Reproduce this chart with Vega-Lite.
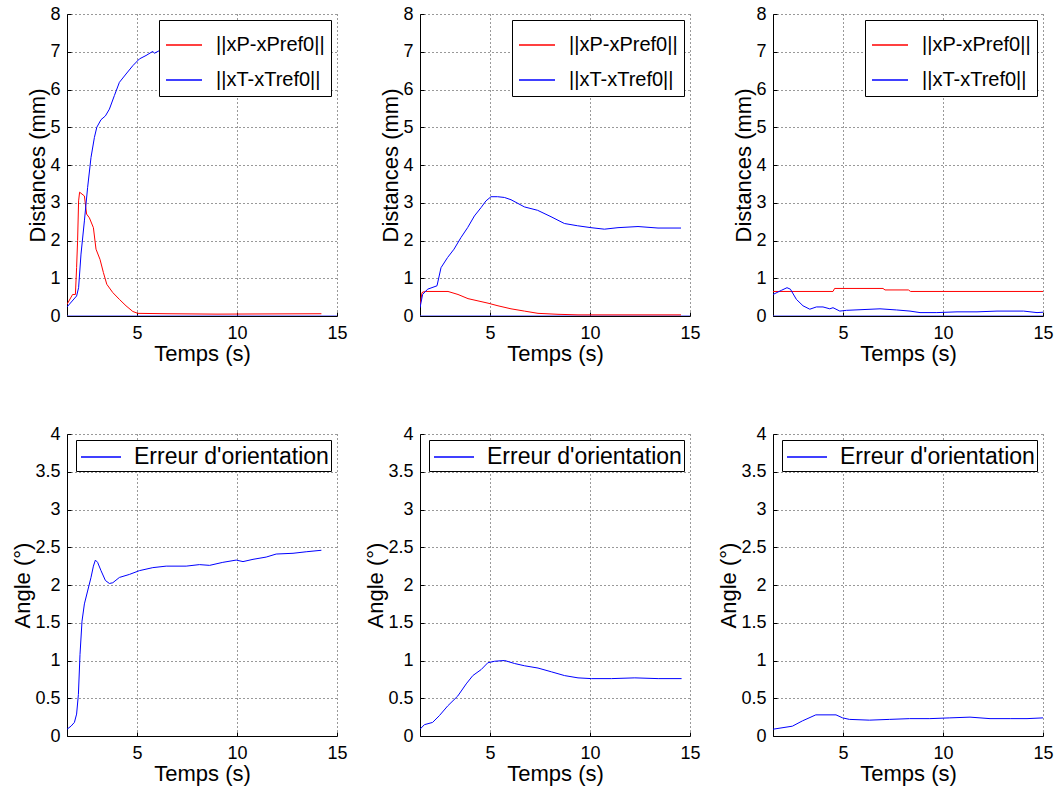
{
  "$schema": "https://vega.github.io/schema/vega-lite/v6.json",
  "padding": {"left": 11, "top": 5, "right": 4, "bottom": 4},
  "background": "white",
  "datasets": {
    "lines": [
      {"p":"A","s":"Z","t":1.5,"v":0},{"p":"A","s":"Z","t":15,"v":0},
      {"p":"B","s":"Z","t":1.5,"v":0},{"p":"B","s":"Z","t":15,"v":0},
      {"p":"C","s":"Z","t":1.5,"v":0},{"p":"C","s":"Z","t":15,"v":0},
      {"p":"A","s":"P","t":1.5,"v":0.31},{"p":"A","s":"P","t":1.78,"v":0.57},{"p":"A","s":"P","t":1.92,"v":0.57},{"p":"A","s":"P","t":1.98,"v":1.28},{"p":"A","s":"P","t":2.03,"v":2.0},{"p":"A","s":"P","t":2.08,"v":3.05},{"p":"A","s":"P","t":2.13,"v":3.28},{"p":"A","s":"P","t":2.37,"v":3.18},{"p":"A","s":"P","t":2.48,"v":2.7},{"p":"A","s":"P","t":2.62,"v":2.6},{"p":"A","s":"P","t":2.82,"v":2.34},{"p":"A","s":"P","t":2.95,"v":1.77},{"p":"A","s":"P","t":3.15,"v":1.5},{"p":"A","s":"P","t":3.32,"v":1.15},{"p":"A","s":"P","t":3.49,"v":0.84},{"p":"A","s":"P","t":3.79,"v":0.62},{"p":"A","s":"P","t":4.12,"v":0.44},{"p":"A","s":"P","t":4.45,"v":0.27},{"p":"A","s":"P","t":4.79,"v":0.12},{"p":"A","s":"P","t":5.04,"v":0.07},{"p":"A","s":"P","t":6.5,"v":0.06},{"p":"A","s":"P","t":9.0,"v":0.05},{"p":"A","s":"P","t":14.22,"v":0.06},
      {"p":"A","s":"T","t":1.5,"v":0.24},{"p":"A","s":"T","t":1.98,"v":0.53},{"p":"A","s":"T","t":2.08,"v":0.75},{"p":"A","s":"T","t":2.2,"v":1.64},{"p":"A","s":"T","t":2.37,"v":2.52},{"p":"A","s":"T","t":2.53,"v":3.4},{"p":"A","s":"T","t":2.7,"v":4.2},{"p":"A","s":"T","t":2.87,"v":4.73},{"p":"A","s":"T","t":2.99,"v":5.0},{"p":"A","s":"T","t":3.2,"v":5.2},{"p":"A","s":"T","t":3.42,"v":5.3},{"p":"A","s":"T","t":3.62,"v":5.48},{"p":"A","s":"T","t":3.87,"v":5.84},{"p":"A","s":"T","t":4.12,"v":6.19},{"p":"A","s":"T","t":4.45,"v":6.41},{"p":"A","s":"T","t":4.79,"v":6.63},{"p":"A","s":"T","t":5.12,"v":6.81},{"p":"A","s":"T","t":5.45,"v":6.9},{"p":"A","s":"T","t":5.79,"v":7.01},{"p":"A","s":"T","t":5.87,"v":6.96},{"p":"A","s":"T","t":6.12,"v":7.03},{"p":"A","s":"T","t":8.0,"v":7.1},{"p":"A","s":"T","t":11.0,"v":7.15},{"p":"A","s":"T","t":14.22,"v":7.2},
      {"p":"B","s":"P","t":1.5,"v":0.27},{"p":"B","s":"P","t":1.6,"v":0.62},{"p":"B","s":"P","t":1.72,"v":0.65},{"p":"B","s":"P","t":2.9,"v":0.65},{"p":"B","s":"P","t":3.4,"v":0.57},{"p":"B","s":"P","t":3.9,"v":0.46},{"p":"B","s":"P","t":4.4,"v":0.4},{"p":"B","s":"P","t":4.9,"v":0.34},{"p":"B","s":"P","t":5.4,"v":0.27},{"p":"B","s":"P","t":6.05,"v":0.19},{"p":"B","s":"P","t":6.72,"v":0.13},{"p":"B","s":"P","t":7.4,"v":0.07},{"p":"B","s":"P","t":8.4,"v":0.045},{"p":"B","s":"P","t":9.4,"v":0.03},{"p":"B","s":"P","t":14.55,"v":0.03},
      {"p":"B","s":"T","t":1.5,"v":0.22},{"p":"B","s":"T","t":1.63,"v":0.57},{"p":"B","s":"T","t":1.88,"v":0.71},{"p":"B","s":"T","t":2.35,"v":0.8},{"p":"B","s":"T","t":2.55,"v":1.28},{"p":"B","s":"T","t":2.88,"v":1.55},{"p":"B","s":"T","t":3.2,"v":1.77},{"p":"B","s":"T","t":3.55,"v":2.08},{"p":"B","s":"T","t":3.88,"v":2.34},{"p":"B","s":"T","t":4.22,"v":2.65},{"p":"B","s":"T","t":4.55,"v":2.87},{"p":"B","s":"T","t":4.8,"v":3.05},{"p":"B","s":"T","t":5.05,"v":3.16},{"p":"B","s":"T","t":5.38,"v":3.16},{"p":"B","s":"T","t":5.72,"v":3.14},{"p":"B","s":"T","t":6.05,"v":3.08},{"p":"B","s":"T","t":6.72,"v":2.89},{"p":"B","s":"T","t":7.38,"v":2.8},{"p":"B","s":"T","t":8.05,"v":2.63},{"p":"B","s":"T","t":8.72,"v":2.45},{"p":"B","s":"T","t":9.38,"v":2.39},{"p":"B","s":"T","t":10.05,"v":2.34},{"p":"B","s":"T","t":10.72,"v":2.3},{"p":"B","s":"T","t":11.4,"v":2.34},{"p":"B","s":"T","t":12.4,"v":2.37},{"p":"B","s":"T","t":13.4,"v":2.33},{"p":"B","s":"T","t":14.55,"v":2.33},
      {"p":"C","s":"P","t":1.5,"v":0.65},{"p":"C","s":"P","t":4.5,"v":0.65},{"p":"C","s":"P","t":4.58,"v":0.73},{"p":"C","s":"P","t":7.0,"v":0.73},{"p":"C","s":"P","t":7.1,"v":0.69},{"p":"C","s":"P","t":8.27,"v":0.69},{"p":"C","s":"P","t":8.38,"v":0.65},{"p":"C","s":"P","t":15,"v":0.65},
      {"p":"C","s":"T","t":1.5,"v":0.57},{"p":"C","s":"T","t":1.92,"v":0.68},{"p":"C","s":"T","t":2.2,"v":0.75},{"p":"C","s":"T","t":2.37,"v":0.71},{"p":"C","s":"T","t":2.67,"v":0.44},{"p":"C","s":"T","t":3.0,"v":0.27},{"p":"C","s":"T","t":3.34,"v":0.18},{"p":"C","s":"T","t":3.67,"v":0.24},{"p":"C","s":"T","t":4.0,"v":0.24},{"p":"C","s":"T","t":4.34,"v":0.19},{"p":"C","s":"T","t":4.5,"v":0.22},{"p":"C","s":"T","t":4.84,"v":0.13},{"p":"C","s":"T","t":5.18,"v":0.15},{"p":"C","s":"T","t":6.0,"v":0.17},{"p":"C","s":"T","t":6.85,"v":0.19},{"p":"C","s":"T","t":7.68,"v":0.16},{"p":"C","s":"T","t":8.35,"v":0.13},{"p":"C","s":"T","t":8.85,"v":0.09},{"p":"C","s":"T","t":9.69,"v":0.09},{"p":"C","s":"T","t":10.7,"v":0.11},{"p":"C","s":"T","t":11.7,"v":0.11},{"p":"C","s":"T","t":12.7,"v":0.13},{"p":"C","s":"T","t":14.03,"v":0.13},{"p":"C","s":"T","t":14.7,"v":0.09},{"p":"C","s":"T","t":15,"v":0.1},
      {"p":"D","s":"E","t":1.5,"v":0.09},{"p":"D","s":"E","t":1.7,"v":0.13},{"p":"D","s":"E","t":1.87,"v":0.18},{"p":"D","s":"E","t":1.98,"v":0.29},{"p":"D","s":"E","t":2.07,"v":0.55},{"p":"D","s":"E","t":2.15,"v":1.08},{"p":"D","s":"E","t":2.25,"v":1.52},{"p":"D","s":"E","t":2.37,"v":1.75},{"p":"D","s":"E","t":2.53,"v":1.92},{"p":"D","s":"E","t":2.7,"v":2.1},{"p":"D","s":"E","t":2.82,"v":2.25},{"p":"D","s":"E","t":2.92,"v":2.33},{"p":"D","s":"E","t":3.03,"v":2.3},{"p":"D","s":"E","t":3.2,"v":2.19},{"p":"D","s":"E","t":3.42,"v":2.06},{"p":"D","s":"E","t":3.62,"v":2.02},{"p":"D","s":"E","t":3.79,"v":2.03},{"p":"D","s":"E","t":4.12,"v":2.1},{"p":"D","s":"E","t":4.62,"v":2.14},{"p":"D","s":"E","t":5.12,"v":2.19},{"p":"D","s":"E","t":5.79,"v":2.23},{"p":"D","s":"E","t":6.46,"v":2.25},{"p":"D","s":"E","t":7.46,"v":2.25},{"p":"D","s":"E","t":8.12,"v":2.27},{"p":"D","s":"E","t":8.63,"v":2.26},{"p":"D","s":"E","t":9.29,"v":2.3},{"p":"D","s":"E","t":9.96,"v":2.33},{"p":"D","s":"E","t":10.3,"v":2.31},{"p":"D","s":"E","t":10.8,"v":2.34},{"p":"D","s":"E","t":11.46,"v":2.37},{"p":"D","s":"E","t":11.96,"v":2.41},{"p":"D","s":"E","t":12.8,"v":2.42},{"p":"D","s":"E","t":13.46,"v":2.44},{"p":"D","s":"E","t":14.22,"v":2.46},
      {"p":"E","s":"E","t":1.5,"v":0.09},{"p":"E","s":"E","t":1.72,"v":0.15},{"p":"E","s":"E","t":2.13,"v":0.18},{"p":"E","s":"E","t":2.47,"v":0.27},{"p":"E","s":"E","t":2.89,"v":0.4},{"p":"E","s":"E","t":3.39,"v":0.53},{"p":"E","s":"E","t":3.81,"v":0.69},{"p":"E","s":"E","t":4.14,"v":0.8},{"p":"E","s":"E","t":4.56,"v":0.88},{"p":"E","s":"E","t":4.89,"v":0.97},{"p":"E","s":"E","t":5.23,"v":0.99},{"p":"E","s":"E","t":5.73,"v":1.0},{"p":"E","s":"E","t":6.23,"v":0.96},{"p":"E","s":"E","t":6.73,"v":0.93},{"p":"E","s":"E","t":7.4,"v":0.9},{"p":"E","s":"E","t":8.07,"v":0.85},{"p":"E","s":"E","t":8.73,"v":0.8},{"p":"E","s":"E","t":9.4,"v":0.77},{"p":"E","s":"E","t":10.07,"v":0.76},{"p":"E","s":"E","t":11.07,"v":0.76},{"p":"E","s":"E","t":12.24,"v":0.77},{"p":"E","s":"E","t":13.41,"v":0.76},{"p":"E","s":"E","t":14.58,"v":0.76},
      {"p":"F","s":"E","t":1.5,"v":0.09},{"p":"F","s":"E","t":2.47,"v":0.13},{"p":"F","s":"E","t":2.97,"v":0.2},{"p":"F","s":"E","t":3.64,"v":0.28},{"p":"F","s":"E","t":4.65,"v":0.28},{"p":"F","s":"E","t":4.98,"v":0.24},{"p":"F","s":"E","t":5.32,"v":0.22},{"p":"F","s":"E","t":6.32,"v":0.21},{"p":"F","s":"E","t":7.33,"v":0.22},{"p":"F","s":"E","t":8.33,"v":0.23},{"p":"F","s":"E","t":9.34,"v":0.23},{"p":"F","s":"E","t":10.34,"v":0.24},{"p":"F","s":"E","t":11.35,"v":0.25},{"p":"F","s":"E","t":12.35,"v":0.23},{"p":"F","s":"E","t":13.36,"v":0.23},{"p":"F","s":"E","t":14.2,"v":0.23},{"p":"F","s":"E","t":15,"v":0.24}
    ]
  },
  "columns": 3,
  "spacing": {"row": 118, "column": 83},
  "bounds": "flush",
  "resolve": {"scale": {"color": "independent", "x": "independent", "y": "independent"}, "legend": {"color": "independent"}, "axis": {"x": "independent", "y": "independent"}},
  "concat": [
    {
      "width": 270, "height": 302,
      "data": {"name": "lines"},
      "transform": [{"filter": "datum.p == 'A'"}],
      "mark": {"type": "line", "strokeWidth": 1, "clip": true},
      "encoding": {
        "x": {"field": "t", "type": "quantitative", "scale": {"domain": [1.5, 15], "nice": false, "zero": false}, "axis": {"values": [5, 10, 15], "title": "Temps (s)"}},
        "y": {"field": "v", "type": "quantitative", "scale": {"domain": [0, 8], "nice": false}, "axis": {"values": [0,1,2,3,4,5,6,7,8], "title": "Distances (mm)"}},
        "color": {"field": "s", "type": "nominal", "scale": {"domain": ["P", "T", "Z"], "range": ["#ff0000", "#0000ff", "#4040ff"]},
          "legend": {"values": ["P", "T"], "title": null, "orient": "top-right", "labelExpr": "datum.value == 'P' ? '||xP-xPref0||' : '||xT-xTref0||'", "labelFontSize": 20, "symbolSize": 1296, "rowPadding": 6, "padding": 6, "labelOffset": 13,
            "encode": {"symbols": {"update": {"stroke": {"signal": "datum.value == 'P' ? '#ff0000' : '#0000ff'"}, "strokeOpacity": {"value": 1}}}}}}
      }
    },
    {
      "width": 270, "height": 302,
      "data": {"name": "lines"},
      "transform": [{"filter": "datum.p == 'B'"}],
      "mark": {"type": "line", "strokeWidth": 1, "clip": true},
      "encoding": {
        "x": {"field": "t", "type": "quantitative", "scale": {"domain": [1.5, 15], "nice": false, "zero": false}, "axis": {"values": [5, 10, 15], "title": "Temps (s)"}},
        "y": {"field": "v", "type": "quantitative", "scale": {"domain": [0, 8], "nice": false}, "axis": {"values": [0,1,2,3,4,5,6,7,8], "title": "Distances (mm)"}},
        "color": {"field": "s", "type": "nominal", "scale": {"domain": ["P", "T", "Z"], "range": ["#ff0000", "#0000ff", "#4040ff"]},
          "legend": {"values": ["P", "T"], "title": null, "orient": "top-right", "labelExpr": "datum.value == 'P' ? '||xP-xPref0||' : '||xT-xTref0||'", "labelFontSize": 20, "symbolSize": 1296, "rowPadding": 6, "padding": 6, "labelOffset": 13,
            "encode": {"symbols": {"update": {"stroke": {"signal": "datum.value == 'P' ? '#ff0000' : '#0000ff'"}, "strokeOpacity": {"value": 1}}}}}}
      }
    },
    {
      "width": 270, "height": 302,
      "data": {"name": "lines"},
      "transform": [{"filter": "datum.p == 'C'"}],
      "mark": {"type": "line", "strokeWidth": 1, "clip": true},
      "encoding": {
        "x": {"field": "t", "type": "quantitative", "scale": {"domain": [1.5, 15], "nice": false, "zero": false}, "axis": {"values": [5, 10, 15], "title": "Temps (s)"}},
        "y": {"field": "v", "type": "quantitative", "scale": {"domain": [0, 8], "nice": false}, "axis": {"values": [0,1,2,3,4,5,6,7,8], "title": "Distances (mm)"}},
        "color": {"field": "s", "type": "nominal", "scale": {"domain": ["P", "T", "Z"], "range": ["#ff0000", "#0000ff", "#4040ff"]},
          "legend": {"values": ["P", "T"], "title": null, "orient": "top-right", "labelExpr": "datum.value == 'P' ? '||xP-xPref0||' : '||xT-xTref0||'", "labelFontSize": 20, "symbolSize": 1296, "rowPadding": 6, "padding": 6, "labelOffset": 13,
            "encode": {"symbols": {"update": {"stroke": {"signal": "datum.value == 'P' ? '#ff0000' : '#0000ff'"}, "strokeOpacity": {"value": 1}}}}}}
      }
    },
    {
      "width": 270, "height": 302,
      "data": {"name": "lines"},
      "transform": [{"filter": "datum.p == 'D'"}],
      "mark": {"type": "line", "strokeWidth": 1, "clip": true},
      "encoding": {
        "x": {"field": "t", "type": "quantitative", "scale": {"domain": [1.5, 15], "nice": false, "zero": false}, "axis": {"values": [5, 10, 15], "title": "Temps (s)"}},
        "y": {"field": "v", "type": "quantitative", "scale": {"domain": [0, 4], "nice": false}, "axis": {"values": [0,0.5,1,1.5,2,2.5,3,3.5,4], "format": "~g", "title": "Angle (°)"}},
        "color": {"field": "s", "type": "nominal", "scale": {"domain": ["E"], "range": ["#0000ff"]},
          "legend": {"title": null, "orient": "top-right", "labelExpr": "'Erreur d\\'orientation\u00a0\u00a0'", "labelFontSize": 23, "symbolSize": 784, "symbolType": "M-1.43,0H1.43", "padding": 2, "symbolOffset": 8, "labelOffset": 18,
            "encode": {"symbols": {"update": {"stroke": {"value": "#0000ff"}, "strokeOpacity": {"value": 1}}}}}}
      }
    },
    {
      "width": 270, "height": 302,
      "data": {"name": "lines"},
      "transform": [{"filter": "datum.p == 'E'"}],
      "mark": {"type": "line", "strokeWidth": 1, "clip": true},
      "encoding": {
        "x": {"field": "t", "type": "quantitative", "scale": {"domain": [1.5, 15], "nice": false, "zero": false}, "axis": {"values": [5, 10, 15], "title": "Temps (s)"}},
        "y": {"field": "v", "type": "quantitative", "scale": {"domain": [0, 4], "nice": false}, "axis": {"values": [0,0.5,1,1.5,2,2.5,3,3.5,4], "format": "~g", "title": "Angle (°)"}},
        "color": {"field": "s", "type": "nominal", "scale": {"domain": ["E"], "range": ["#0000ff"]},
          "legend": {"title": null, "orient": "top-right", "labelExpr": "'Erreur d\\'orientation\u00a0\u00a0'", "labelFontSize": 23, "symbolSize": 784, "symbolType": "M-1.43,0H1.43", "padding": 2, "symbolOffset": 8, "labelOffset": 18,
            "encode": {"symbols": {"update": {"stroke": {"value": "#0000ff"}, "strokeOpacity": {"value": 1}}}}}}
      }
    },
    {
      "width": 270, "height": 302,
      "data": {"name": "lines"},
      "transform": [{"filter": "datum.p == 'F'"}],
      "mark": {"type": "line", "strokeWidth": 1, "clip": true},
      "encoding": {
        "x": {"field": "t", "type": "quantitative", "scale": {"domain": [1.5, 15], "nice": false, "zero": false}, "axis": {"values": [5, 10, 15], "title": "Temps (s)"}},
        "y": {"field": "v", "type": "quantitative", "scale": {"domain": [0, 4], "nice": false}, "axis": {"values": [0,0.5,1,1.5,2,2.5,3,3.5,4], "format": "~g", "title": "Angle (°)"}},
        "color": {"field": "s", "type": "nominal", "scale": {"domain": ["E"], "range": ["#0000ff"]},
          "legend": {"title": null, "orient": "top-right", "labelExpr": "'Erreur d\\'orientation\u00a0\u00a0'", "labelFontSize": 23, "symbolSize": 784, "symbolType": "M-1.43,0H1.43", "padding": 2, "symbolOffset": 8, "labelOffset": 18,
            "encode": {"symbols": {"update": {"stroke": {"value": "#0000ff"}, "strokeOpacity": {"value": 1}}}}}}
      }
    }
  ],
  "config": {
    "font": "Liberation Sans",
    "view": {"stroke": null},
    "axis": {
      "labelFont": "Liberation Sans", "labelFontSize": 18, "labelColor": "black", "labelFlush": false,
      "titleFont": "Liberation Sans", "titleFontSize": 22, "titleFontWeight": "normal", "titleColor": "black",
      "domainColor": "black", "ticks": true, "tickSize": -4, "tickColor": "black", "labelPadding": 11, "titlePadding": 0,
      "gridColor": "black", "gridDash": [1, 3], "gridOpacity": 0.8, "gridWidth": 1
    },
    "axisX": {"labelPadding": 12, "titlePadding": 1},
    "legend": {
      "symbolType": "stroke", "symbolStrokeWidth": 1.3, "strokeColor": "black", "fillColor": "white",
      "padding": 4, "offset": 6, "labelFont": "Liberation Sans", "labelColor": "black", "labelOffset": 12, "labelLimit": 400
    }
  }
}
